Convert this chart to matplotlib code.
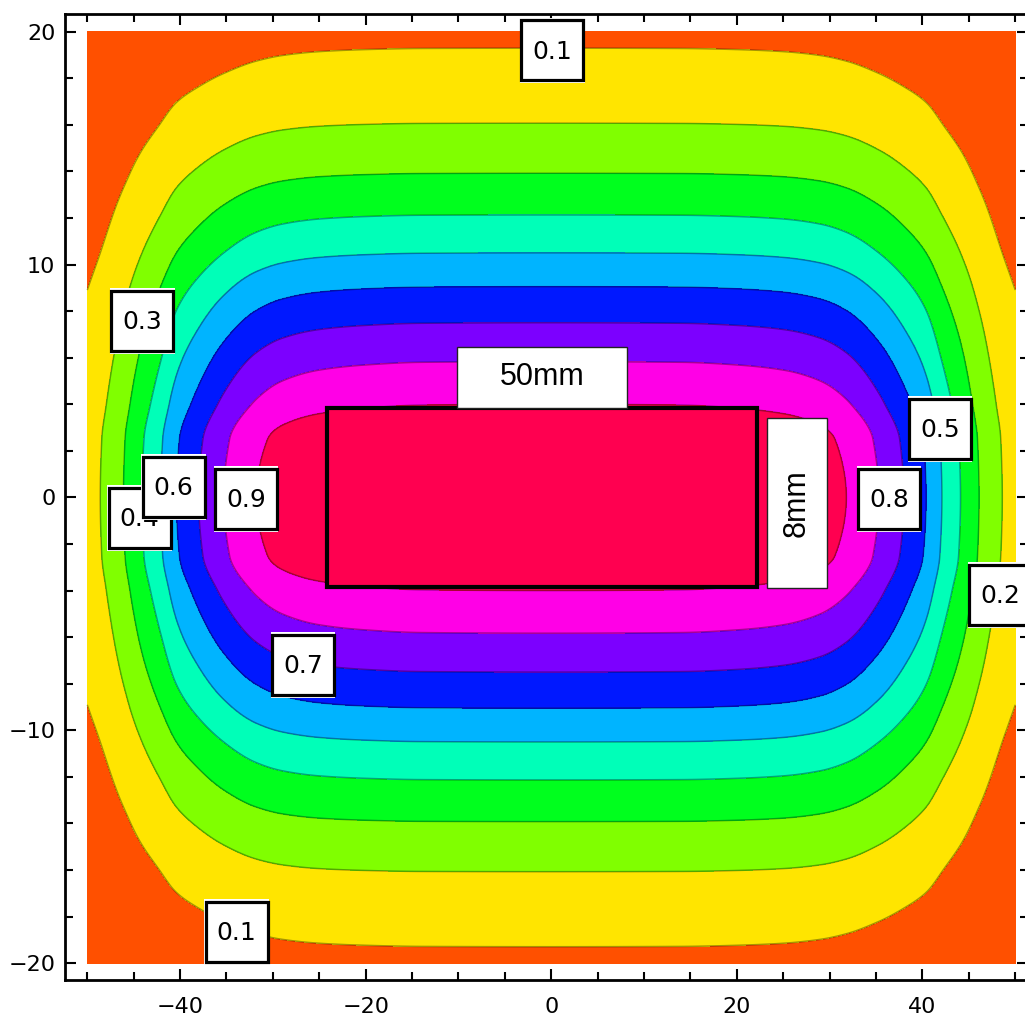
import numpy as np
import matplotlib
matplotlib.use("Agg")
import matplotlib.pyplot as plt
from matplotlib.patches import Rectangle

# profile of the field along y=0 (distance from centre in x) and along x=0
x_dist = [0, 14, 20, 25, 29, 31.8, 35.3, 38.0, 40.4, 42.1, 44.1, 46.1, 48.6, 50, 52]
x_val = [1.0, 0.998, 0.99, 0.975, 0.945, 0.9, 0.8, 0.7, 0.6, 0.5, 0.4, 0.3, 0.2, 0.164, 0.13]
y_dist = [0, 2.5, 4.0, 5.83, 7.5, 9.05, 10.5, 12.13, 13.92, 16.07, 19.29, 21]
y_val = [1.0, 0.975, 0.9, 0.8, 0.7, 0.6, 0.5, 0.4, 0.3, 0.2, 0.1, 0.08]

levels = [0.0, 0.1, 0.2, 0.3, 0.4, 0.5, 0.6, 0.7, 0.8, 0.9, 1.01]
band_colors = ['#FF5000', '#FFE500', '#80FF00', '#00FF1E', '#00FFB8',
               '#00B4FF', '#0018FF', '#7C00FF', '#FF00E6', '#FF0050']

# contour labels (text, x, y)
labels = [
  ("0.1", 0.1, 19.19),
  ("0.3", -44.05, 7.58),
  ("0.4", -44.35, -0.89),
  ("0.6", -40.7, 0.44),
  ("0.9", -32.9, -0.06),
  ("0.5", 41.9, 2.95),
  ("0.8", 36.4, -0.06),
  ("0.2", 48.4, -4.2),
  ("0.7", -26.76, -7.19),
  ("0.1", -33.9, -18.66),
]

magnet = (-24.2, -3.85, 46.4, 7.7)  # x0, y0, width, height


def pchip(xk, yk, x):
  # monotone cubic through the read points, flat at the centre
  xk = np.asarray(xk, float)
  yk = np.asarray(yk, float)
  h = np.diff(xk)
  d = np.diff(yk) / h
  m = np.zeros_like(yk)
  for k in range(1, len(xk) - 1):
    if d[k - 1] * d[k] > 0:
      w1 = 2 * h[k] + h[k - 1]
      w2 = h[k] + 2 * h[k - 1]
      m[k] = (w1 + w2) / (w1 / d[k - 1] + w2 / d[k])
  m[-1] = d[-1]
  i = np.clip(np.searchsorted(xk, x) - 1, 0, len(h) - 1)
  t = (x - xk[i]) / h[i]
  h00 = 2 * t**3 - 3 * t**2 + 1
  h10 = t**3 - 2 * t**2 + t
  h01 = -2 * t**3 + 3 * t**2
  h11 = t**3 - t**2
  return h00 * yk[i] + h10 * h[i] * m[i] + h01 * yk[i + 1] + h11 * h[i] * m[i + 1]


W, H = 1025, 1021
fig = plt.figure(figsize=(W / 100, H / 100), dpi=100)
ax = fig.add_axes([65 / W, (H - 980) / H, (1028 - 65) / W, (980 - 14) / H])

# px per unit, used to size the label boxes
sx = 9.28
sy = 23.29
ax.set_xlim(-52.4, -52.4 + (1028 - 65) / sx)
ax.set_ylim(-20.72, -20.72 + (980 - 14) / sy)

xs = np.linspace(-50, 50, 1001)
ys = np.linspace(-20, 20, 601)
X, Y = np.meshgrid(xs, ys)
F = pchip(x_dist, x_val, np.abs(X)) * pchip(y_dist, y_val, np.abs(Y))

ax.contourf(X, Y, F, levels=levels, colors=band_colors)
ax.contour(X, Y, F, levels=levels[1:-1], colors=[(0, 0, 0, 0.35)], linewidths=1.1)

ax.add_patch(Rectangle(magnet[:2], magnet[2], magnet[3], fc='#FF0050',
                       ec='black', lw=3, zorder=3))

# dimension labels
bw, bh = 170 / sx, 61 / sy
ax.add_patch(Rectangle((-1.0 - bw / 2, 5.15 - bh / 2), bw, bh, fc='white',
                       ec='#222222', lw=1, zorder=4))
ax.text(-1.0, 5.15, "50mm", ha='center', va='center', fontsize=22,
        family='Liberation Sans', zorder=5)
bw, bh = 60 / sx, 170 / sy
ax.add_patch(Rectangle((26.46 - bw / 2, -0.24 - bh / 2), bw, bh, fc='white',
                       ec='#222222', lw=1, zorder=4))
ax.text(26.46, -0.24, "8mm", ha='center', va='center', fontsize=22,
        rotation=90, family='Liberation Sans', zorder=5)

# contour value boxes
bw, bh = 62 / sx, 60 / sy
for i, (txt, lx, ly) in enumerate(labels):
  z = 6 + 2 * i
  ax.add_patch(Rectangle((lx - bw / 2 - 0.15, ly - bh / 2 - 0.12), bw + 0.3, bh + 0.24,
                         fc='white', ec='none', zorder=z, clip_on=False))
  ax.add_patch(Rectangle((lx - bw / 2, ly - bh / 2), bw, bh, fc='white',
                         ec='black', lw=2.3, zorder=z, clip_on=False))
  ax.text(lx, ly - 0.05, txt, ha='center', va='center', fontsize=18,
          family='DejaVu Sans', zorder=z + 1, clip_on=False)

ax.set_xticks([-40, -20, 0, 20, 40])
ax.set_xticks(np.arange(-50, 51, 5), minor=True)
ax.set_yticks([-20, -10, 0, 10, 20])
ax.set_yticks(np.arange(-20, 21, 2), minor=True)
ax.tick_params(which='both', direction='in', top=True, right=True, width=1.5,
               labelsize=16)
ax.tick_params(which='major', length=8)
ax.tick_params(which='minor', length=5.5)
ax.tick_params(axis='x', pad=12)
ax.tick_params(axis='y', pad=7)
for s in ax.spines.values():
  s.set_linewidth(2)

fig.savefig("out.png", dpi=100)
